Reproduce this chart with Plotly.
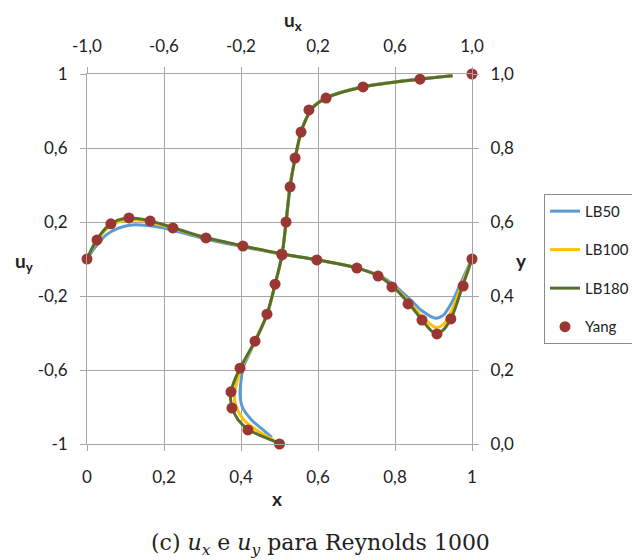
import plotly.graph_objects as go

# ---------------- data ----------------
# u_y along horizontal centreline (bottom x axis, left y axis)
yang_x = [0, 0.026, 0.062, 0.109, 0.164, 0.223, 0.309, 0.405, 0.506, 0.597, 0.701, 0.756, 0.792, 0.834, 0.870, 0.909, 0.945, 0.977, 1.0]
yang_uy = [0, 0.103, 0.19, 0.222, 0.205, 0.168, 0.114, 0.07, 0.027, -0.005, -0.049, -0.092, -0.151, -0.243, -0.330, -0.405, -0.324, -0.146, 0]

lb_x = [0, 0.02, 0.05, 0.08, 0.11, 0.15, 0.2, 0.3, 0.4, 0.5, 0.6, 0.7, 0.76, 0.8, 0.84, 0.87, 0.905, 0.925, 0.95, 0.975, 1.0]
lb50_uy = [0, 0.06, 0.13, 0.165, 0.183, 0.183, 0.168, 0.112, 0.068, 0.028, -0.006, -0.048, -0.09, -0.145, -0.22, -0.28, -0.32, -0.305, -0.225, -0.11, 0]
lb100_uy = [0, 0.08, 0.16, 0.2, 0.212, 0.205, 0.18, 0.118, 0.072, 0.03, -0.005, -0.048, -0.093, -0.155, -0.24, -0.31, -0.37, -0.355, -0.265, -0.13, 0]
lb180_uy = [0, 0.085, 0.17, 0.21, 0.222, 0.213, 0.185, 0.12, 0.073, 0.03, -0.005, -0.048, -0.095, -0.16, -0.25, -0.33, -0.405, -0.385, -0.3, -0.15, 0]

# u_x along vertical centreline (top x axis, right y axis)
yang_y = [0, 0.038, 0.097, 0.141, 0.205, 0.278, 0.351, 0.432, 0.511, 0.6, 0.695, 0.773, 0.843, 0.903, 0.935, 0.965, 0.986, 1.0]
yang_ux = [0, -0.164, -0.247, -0.252, -0.205, -0.127, -0.065, -0.023, 0.013, 0.034, 0.055, 0.081, 0.112, 0.153, 0.242, 0.434, 0.73, 1.0]

lb50_y = [0.018, 0.038, 0.065, 0.1, 0.135, 0.17, 0.205, 0.24, 0.28, 0.35, 0.43, 0.51, 0.6, 0.7, 0.77, 0.84, 0.88, 0.91, 0.935, 0.965, 0.986, 0.995]
lb50_ux = [-0.04, -0.085, -0.145, -0.193, -0.205, -0.2, -0.19, -0.16, -0.125, -0.065, -0.023, 0.013, 0.034, 0.055, 0.08, 0.11, 0.138, 0.172, 0.235, 0.425, 0.72, 0.895]

lb100_y = [0.01, 0.038, 0.065, 0.1, 0.13, 0.17, 0.205, 0.24, 0.28, 0.35, 0.43, 0.51, 0.6, 0.7, 0.77, 0.84, 0.88, 0.91, 0.935, 0.965, 0.986, 0.995]
lb100_ux = [-0.03, -0.12, -0.185, -0.225, -0.235, -0.22, -0.2, -0.165, -0.127, -0.065, -0.023, 0.013, 0.034, 0.055, 0.081, 0.112, 0.14, 0.173, 0.238, 0.43, 0.725, 0.897]

lb180_y = [0.004, 0.038, 0.065, 0.097, 0.12, 0.141, 0.17, 0.205, 0.24, 0.278, 0.351, 0.432, 0.511, 0.6, 0.695, 0.773, 0.843, 0.88, 0.91, 0.935, 0.965, 0.986, 0.995]
lb180_ux = [-0.01, -0.158, -0.215, -0.245, -0.254, -0.252, -0.235, -0.205, -0.168, -0.127, -0.065, -0.023, 0.013, 0.034, 0.055, 0.081, 0.112, 0.14, 0.175, 0.242, 0.434, 0.73, 0.9]

# tick labels
bottom_vals = [0, 0.2, 0.4, 0.6, 0.8, 1]
bottom_text = ["0", "0,2", "0,4", "0,6", "0,8", "1"]
top_vals = [-1, -0.6, -0.2, 0.2, 0.6, 1]
top_text = ["-1,0", "-0,6", "-0,2", "0,2", "0,6", "1,0"]
left_vals = [-1, -0.6, -0.2, 0.2, 0.6, 1]
left_text = ["-1", "-0,6", "-0,2", "0,2", "0,6", "1"]
right_vals = [0, 0.2, 0.4, 0.6, 0.8, 1]
right_text = ["0,0", "0,2", "0,4", "0,6", "0,8", "1,0"]

series = [
    ("LB50", "#5B9BD5", lb_x, lb50_uy, lb50_ux, lb50_y),
    ("LB100", "#FFC000", lb_x, lb100_uy, lb100_ux, lb100_y),
    ("LB180", "#55702E", lb_x, lb180_uy, lb180_ux, lb180_y),
]

fig = go.Figure()
for name, color, xs, uys, uxs, ys in series:
    fig.add_trace(go.Scatter(x=xs, y=uys, mode="lines", name=name, legendgroup=name,
                             line=dict(color=color, width=3, shape="spline", smoothing=0.8),
                             xaxis="x", yaxis="y", showlegend=True))
    fig.add_trace(go.Scatter(x=uxs, y=ys, mode="lines", name=name, legendgroup=name,
                             line=dict(color=color, width=3, shape="spline", smoothing=0.8),
                             xaxis="x2", yaxis="y2", showlegend=False))

marker = dict(color="#9B3733", size=11)
fig.add_trace(go.Scatter(x=yang_x, y=yang_uy, mode="markers", name="Yang", legendgroup="Yang",
                         marker=marker, xaxis="x", yaxis="y", cliponaxis=False))
fig.add_trace(go.Scatter(x=yang_ux, y=yang_y, mode="markers", name="Yang", legendgroup="Yang",
                         marker=marker, xaxis="x2", yaxis="y2", cliponaxis=False, showlegend=False))

grid = "#A6A6A6"
tickfont = dict(family="Lato, sans-serif", size=17, color="#222222")
common = dict(showgrid=True, gridcolor=grid, gridwidth=1, zeroline=False,
              ticks="outside", ticklen=6, tickcolor=grid, tickfont=tickfont,
              tickmode="array", automargin=False)

# the page body adds an 8px offset, so the figure is 8px smaller and margins shifted
fig.update_layout(
    width=632, height=552,
    margin=dict(l=79, r=168, t=66, b=116, autoexpand=False),
    paper_bgcolor="white", plot_bgcolor="white",
    showlegend=True,
    xaxis=dict(range=[0, 1], tickvals=bottom_vals, ticktext=bottom_text,
               showline=True, linecolor=grid, mirror=True, ticklabelstandoff=12, **common),
    yaxis=dict(range=[-1, 1], tickvals=left_vals, ticktext=left_text,
               showline=True, linecolor=grid, mirror=True, ticklabelstandoff=9, **common),
    xaxis2=dict(range=[-1, 1], tickvals=top_vals, ticktext=top_text, overlaying="x",
                side="top", anchor="y", ticklabelstandoff=8,
                **{**common, "showgrid": False}),
    yaxis2=dict(range=[0, 1], tickvals=right_vals, ticktext=right_text, overlaying="y",
                side="right", anchor="x", ticklabelstandoff=8,
                **{**common, "showgrid": False}),
    legend=dict(x=1.187, y=0.676, xanchor="left", yanchor="top",
                bordercolor="#8C8C80", borderwidth=1, bgcolor="white",
                font=dict(family="Lato, sans-serif", size=15, color="#222222"),
                tracegroupgap=16, itemwidth=30),
)


def px_x(p):
    return (p - 87) / 385


def px_y(p):
    return (444 - p) / 370


title_font = dict(family="Lato, sans-serif", size=19, color="#222222")
for txt, xp, yp in [("<b>u<sub>x</sub></b>", 293, 21), ("<b>u<sub>y</sub></b>", 24, 262),
                    ("<b>y</b>", 521, 261), ("<b>x</b>", 277, 498)]:
    fig.add_annotation(text=txt, xref="paper", yref="paper", x=px_x(xp), y=px_y(yp),
                       xanchor="center", yanchor="middle", showarrow=False, font=title_font)

fig.add_annotation(text="(c) <i>u<sub>x</sub></i> e <i>u<sub>y</sub></i> para Reynolds 1000",
                   xref="paper", yref="paper", x=px_x(320), y=px_y(544),
                   xanchor="center", yanchor="middle", showarrow=False,
                   font=dict(family="DejaVu Serif, serif", size=22, color="#222222"))

fig.write_html("out.html")
